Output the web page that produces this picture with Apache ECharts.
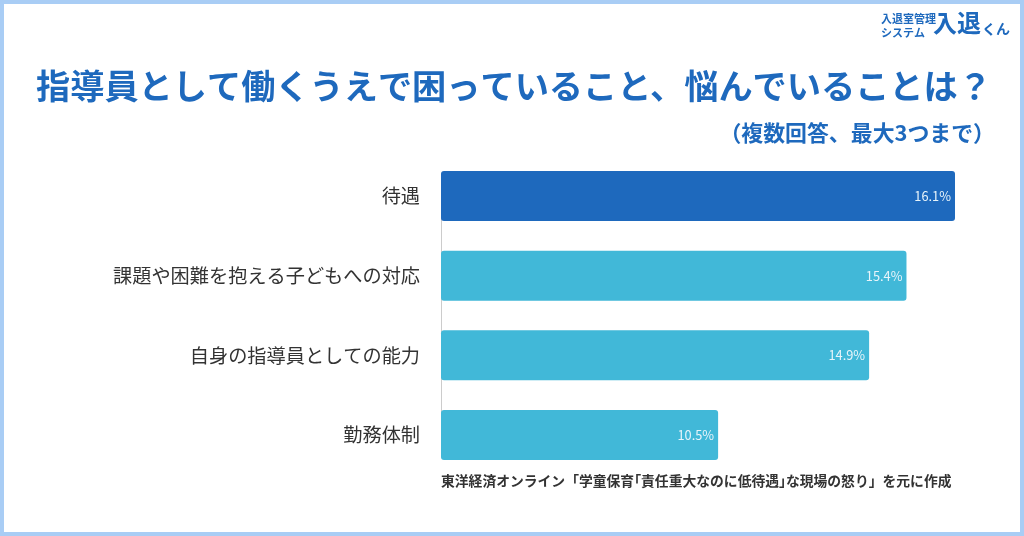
<!DOCTYPE html>
<html>
<head>
<meta charset="utf-8">
<style>
  html, body { margin: 0; padding: 0; background: #fff; }
  #chart { width: 1024px; height: 536px; }
</style>
<script src="https://cdn.jsdelivr.net/npm/echarts@6/dist/echarts.min.js"></script>
</head>
<body>
<div id="chart"></div>
<script>
var categories = ['待遇', '課題や困難を抱える子どもへの対応', '自身の指導員としての能力', '勤務体制'];
// printed percentages
var valueLabels = ['16.1%', '15.4%', '14.9%', '10.5%'];
// drawn bar lengths, the source bars are not proportional to the printed numbers
var barLengths = [16.1, 14.58, 13.41, 8.68];
var barColors = ['#1e69bd', '#41b8d8', '#41b8d8', '#41b8d8'];

var FONT = '"Noto Sans CJK JP", "Noto Sans", sans-serif';
var chart = echarts.init(document.getElementById('chart'), null, { renderer: 'canvas' });

var option = {
  backgroundColor: '#ffffff',
  animation: false,
  textStyle: { fontFamily: FONT },
  title: [{
    text: '指導員として働くうえで困っていること、悩んでいることは？',
    left: 31,
    top: 64,
    textStyle: { color: '#1e69bd', fontSize: 34.2, fontWeight: 'bold', fontFamily: FONT }
  }, {
    text: '（複数回答、最大3つまで）',
    right: 24,
    top: 117,
    textStyle: { color: '#1e69bd', fontSize: 21.9, fontWeight: 'bold', fontFamily: FONT }
  }, {
    text: '東洋経済オンライン「学童保育｢責任重大なのに低待遇｣な現場の怒り」を元に作成',
    left: 436,
    top: 469,
    textStyle: { color: '#333333', fontSize: 13.8, fontWeight: 'bold', fontFamily: FONT }
  }],
  // points sit on the grid ends so the axis line stops inside the first and last bars
  grid: { left: 441, top: 196, width: 514, height: 239 },
  xAxis: { type: 'value', min: 0, max: 16.1, show: false },
  yAxis: {
    type: 'category',
    inverse: true,
    boundaryGap: false,
    data: categories,
    axisLine: { show: true, lineStyle: { color: '#cccccc', width: 1 } },
    axisTick: { show: false },
    axisLabel: { color: '#333333', fontSize: 19.2, margin: 21, fontFamily: FONT }
  },
  series: [{
    type: 'bar',
    barWidth: 50,
    clip: false,
    data: barLengths.map(function (v, i) {
      return { value: v, itemStyle: { color: barColors[i], borderRadius: 3 } };
    }),
    label: {
      show: true,
      position: 'insideRight',
      distance: 4,
      color: '#e8f4fa',
      fontSize: 12.8,
      fontFamily: FONT,
      formatter: function (p) { return valueLabels[p.dataIndex]; }
    }
  }],
  graphic: [{
    type: 'rect',
    shape: { x: 2, y: 2, width: 1020, height: 532 },
    style: { fill: 'none', stroke: '#a9cdf5', lineWidth: 4 },
    silent: true
  }, {
    type: 'text',
    left: 881,
    top: 12,
    style: { text: '入退室管理\nシステム', fill: '#1e69bd', fontSize: 11, lineHeight: 14, fontWeight: 'bold', fontFamily: FONT }
  }, {
    type: 'text',
    left: 933,
    top: 11,
    style: { text: '入退', fill: '#1e69bd', fontSize: 24, fontWeight: 'bold', fontFamily: FONT }
  }, {
    type: 'text',
    left: 982,
    top: 22,
    style: { text: 'くん', fill: '#1e69bd', fontSize: 14, fontWeight: 'bold', fontFamily: FONT }
  }]
};
chart.setOption(option);
</script>
</body>
</html>
